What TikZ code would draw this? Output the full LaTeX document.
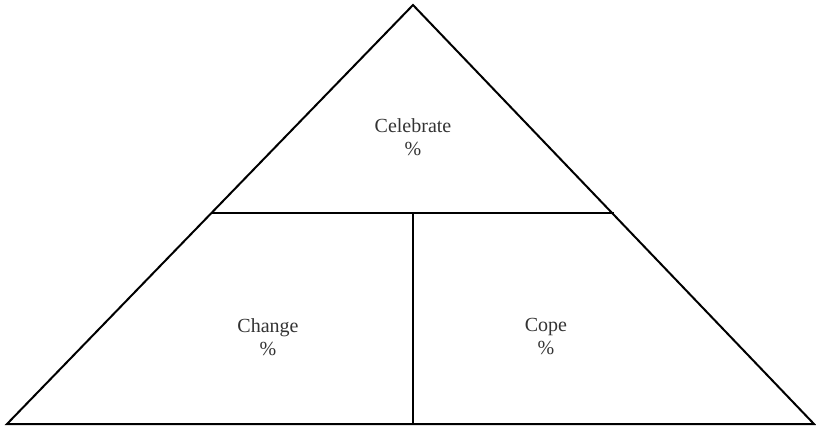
\documentclass[tikz,border=0pt]{standalone}
\usepackage{fontspec}
\setmainfont{Liberation Serif}
\begin{document}
\begin{tikzpicture}[x=1pt,y=-1pt,
  edge/.style={line width=2pt,black,line join=miter},
  label/.style={align=center,font=\fontsize{20}{23}\selectfont,text=black!80,inner sep=0pt}]
\useasboundingbox (0,0) rectangle (816,429);
% corners of the pyramid
\coordinate (top) at (413,5);
\coordinate (bl) at (7,424);
\coordinate (br) at (814,424);
\coordinate (ml) at (212,213);
\coordinate (mr) at (614,213);
\coordinate (mid) at (413,213);
\coordinate (bm) at (413,424);
% outline and dividers
\draw[edge] (top) -- (br) -- (bl) -- cycle;
\draw[edge] (ml) -- (mr);
\draw[edge] (mid) -- (bm);
% section labels
\node[label] (celebrate) at (413,137) {Celebrate\\\%};
\node[label] (change) at (268,337) {Change\\\%};
\node[label] (cope) at (546,337) {Cope\\\%};
\end{tikzpicture}
\end{document}
